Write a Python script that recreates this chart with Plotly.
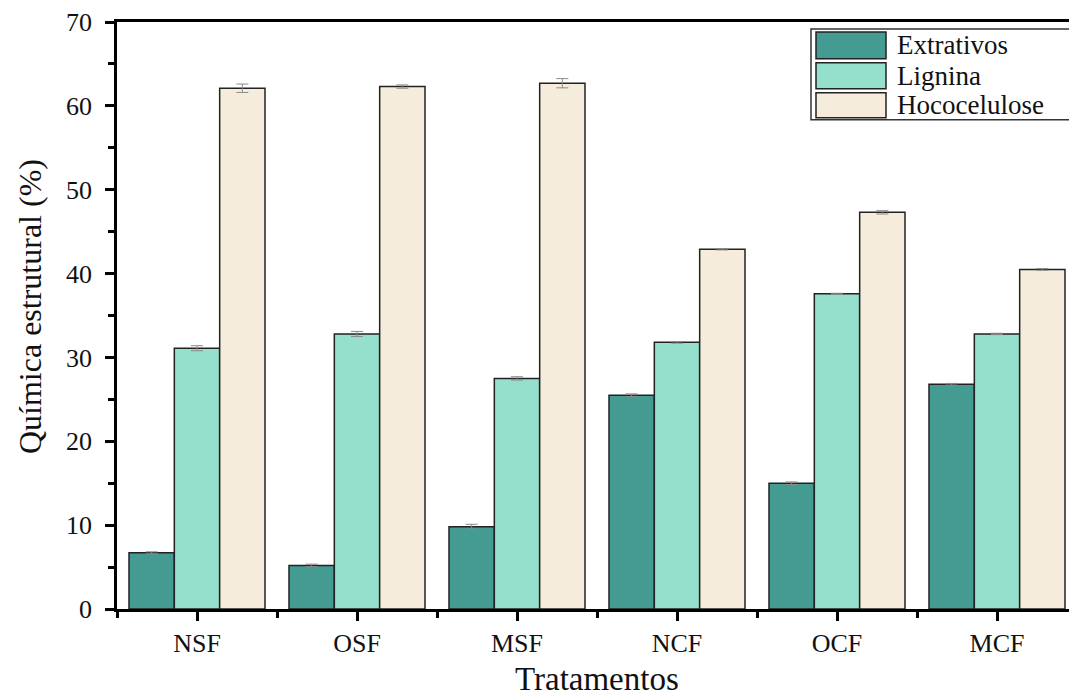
import plotly.graph_objects as go

categories = ["NSF", "OSF", "MSF", "NCF", "OCF", "MCF"]
series_names = ["Extrativos", "Lignina", "Hococelulose"]
extrativos = [6.7, 5.2, 9.8, 25.5, 15.0, 26.8]
lignina = [31.1, 32.8, 27.5, 31.8, 37.6, 32.8]
hococelulose = [62.1, 62.3, 62.7, 42.9, 47.3, 40.5]
err_extrativos = [0.12, 0.15, 0.3, 0.15, 0.15, 0.1]
err_lignina = [0.3, 0.3, 0.2, 0.1, 0.05, 0.08]
err_hococelulose = [0.5, 0.2, 0.55, 0.08, 0.2, 0.1]
colors = ["#449b92", "#95dfcd", "#f5ecdc"]
y_ticks = [0, 10, 20, 30, 40, 50, 60, 70]
x_title = "Tratamentos"
y_title = "Química estrutural (%)"

FONT = "Liberation Serif, Times New Roman, serif"
TXT = "#111111"
xs = list(range(len(categories)))
values = [extrativos, lignina, hococelulose]
errors = [err_extrativos, err_lignina, err_hococelulose]

fig = go.Figure()
for name, vals, errs, col in zip(series_names, values, errors, colors):
    fig.add_trace(go.Bar(
        x=xs, y=vals, name=name,
        marker=dict(color=col, line=dict(color="#222222", width=1.5)),
        error_y=dict(type="data", array=errs, color="#8a8a8a", thickness=1, width=6),
        showlegend=False,
    ))

# plot-area pixel frame (page coords of the reference)
L, R_, T, B = 117, 1077, 20, 609
W, H = R_ - L, B - T
def px(x):
    return (x - L) / W
def py(y):
    return (B - y) / H

# manual legend with large swatches
fig.add_shape(type="rect", xref="paper", yref="paper",
              x0=px(811), x1=px(1071), y0=py(118), y1=py(27),
              line=dict(color="#333333", width=1.5), fillcolor="white")
rows = [(30, 57), (61, 87), (91, 116)]
for (y0, y1), name, col in zip(rows, series_names, colors):
    fig.add_shape(type="rect", xref="paper", yref="paper",
                  x0=px(816), x1=px(886), y0=py(y1), y1=py(y0),
                  line=dict(color="#222222", width=1.5), fillcolor=col)
    fig.add_annotation(xref="paper", yref="paper", x=px(895), y=py((y0 + y1) / 2),
                       text=name, showarrow=False, xanchor="left", yanchor="middle",
                       font=dict(family=FONT, size=27, color=TXT))

# axis titles
fig.add_annotation(xref="paper", yref="paper", x=px(597), y=py(679),
                   text=x_title, showarrow=False, xanchor="center", yanchor="middle",
                   font=dict(family=FONT, size=33, color=TXT))
fig.add_annotation(xref="paper", yref="paper", x=px(30), y=py(306),
                   text=y_title, showarrow=False, textangle=-90,
                   xanchor="center", yanchor="middle",
                   font=dict(family=FONT, size=32, color=TXT))

# page body has an 8px margin: shift figure accordingly
fig.update_layout(
    width=1069, height=692,
    margin=dict(l=109, r=0, t=12, b=91),
    paper_bgcolor="white", plot_bgcolor="white",
    barmode="group", bargap=0.15, bargroupgap=0,
    font=dict(family=FONT, color=TXT),
)
fig.update_xaxes(
    range=[-0.5, 5.5], tickvals=xs, ticktext=categories,
    showline=True, linecolor="black", linewidth=2.5, mirror=True,
    ticks="outside", ticklen=9, tickwidth=2.5, tickcolor="black",
    minor=dict(tickvals=[i - 0.5 for i in range(len(categories) + 1)],
               ticks="outside", ticklen=6, tickwidth=2.5, tickcolor="black"),
    showgrid=False, zeroline=False,
    ticklabeloverflow="allow",
    tickfont=dict(family=FONT, size=26, color=TXT),
)
fig.update_yaxes(
    range=[0, 70], tickvals=y_ticks,
    showline=True, linecolor="black", linewidth=2.5,
    ticks="outside", ticklen=9, tickwidth=2.5, tickcolor="black",
    minor=dict(dtick=5, ticks="outside", ticklen=6, tickwidth=2.5, tickcolor="black"),
    showgrid=False, zeroline=False,
    ticklabelstandoff=8, ticklabeloverflow="allow",
    tickfont=dict(family=FONT, size=26, color=TXT),
)

fig.write_html("out.html")
